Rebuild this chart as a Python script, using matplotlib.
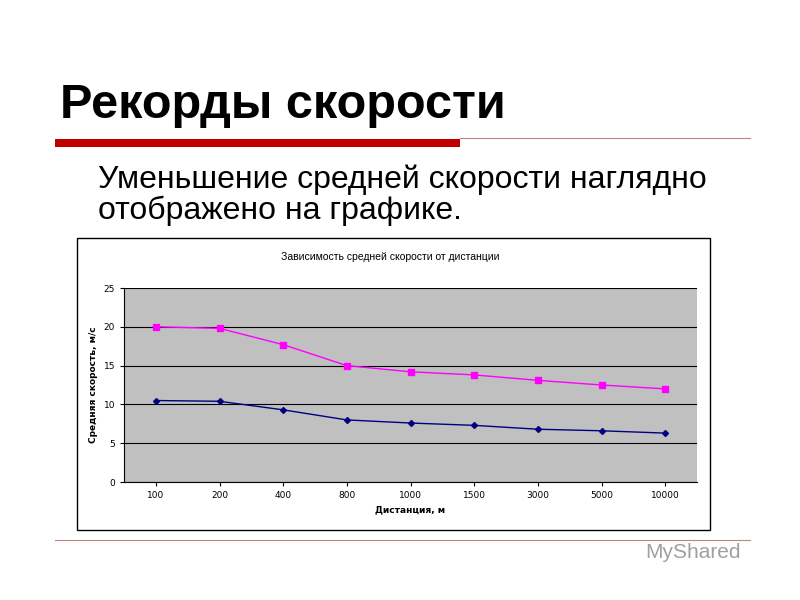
import matplotlib
matplotlib.use("Agg")
import matplotlib.pyplot as plt
from matplotlib.patches import Rectangle
from matplotlib.lines import Line2D

distances = ["100", "200", "400", "800", "1000", "1500", "3000", "5000", "10000"]
speed_top = [20.0, 19.8, 17.7, 15.0, 14.2, 13.8, 13.1, 12.5, 12.0]
speed_bottom = [10.5, 10.4, 9.3, 8.0, 7.6, 7.3, 6.8, 6.6, 6.3]

W, H = 800, 600
fig = plt.figure(figsize=(8, 6), dpi=100)
fig.patch.set_facecolor("white")

def fx(x): return x / W
def fy(y): return 1 - y / H

# title and decorations
fig.text(fx(60), fy(105), "Рекорды скорости", fontsize=35, fontweight="bold",
         family="Liberation Sans", va="center", ha="left")
fig.add_artist(Rectangle((fx(55), fy(147)), fx(405), 8/H, transform=fig.transFigure,
                         color="#c00000", lw=0))
fig.add_artist(Line2D([fx(460), fx(750)], [fy(138), fy(138)], transform=fig.transFigure,
                      color="#c08080", lw=0.8))
fig.text(fx(98), fy(180), "Уменьшение средней скорости наглядно", fontsize=23,
         family="Liberation Sans", va="center", ha="left")
fig.text(fx(98), fy(211), "отображено на графике.", fontsize=23,
         family="Liberation Sans", va="center", ha="left")
fig.add_artist(Line2D([fx(55), fx(750)], [fy(540), fy(540)], transform=fig.transFigure,
                      color="#c08080", lw=0.8))
fig.text(fx(645), fy(553), "MyShared", fontsize=15, color="#a0a0a0",
         family="Liberation Sans", va="center", ha="left")

# chart box
box = Rectangle((fx(77), fy(530)), fx(633), 292/H, transform=fig.transFigure,
                facecolor="white", edgecolor="black", lw=1, zorder=-1)
fig.patches.append(box)
fig.text(fx(390), fy(257), "Зависимость средней скорости от дистанции", fontsize=7.5,
         family="Liberation Sans", va="center", ha="center")

ax = fig.add_axes([fx(124), fy(482), fx(697-124), (482-288)/H], zorder=5)
ax.set_facecolor("#c0c0c0")
x = list(range(len(distances)))
ax.plot(x, speed_top, color="#ff00ff", marker="s", markersize=4, lw=1)
ax.plot(x, speed_bottom, color="#000080", marker="D", markersize=3, lw=1)
ax.set_xlim(-0.5, len(distances) - 0.5)
ax.set_ylim(0, 25)
ax.set_yticks([0, 5, 10, 15, 20, 25])
ax.set_xticks(x)
ax.set_xticklabels(distances)
ax.tick_params(labelsize=6.5, length=3)
ax.grid(axis="y", color="black", lw=0.8)
ax.set_axisbelow(True)
for s in ["top", "right"]:
    ax.spines[s].set_visible(False)
ax.set_xlabel("Дистанция, м", fontsize=6.5, fontweight="bold")
ax.set_ylabel("Средняя скорость, м/с", fontsize=6.5, fontweight="bold")

fig.savefig("out.png", dpi=100)
